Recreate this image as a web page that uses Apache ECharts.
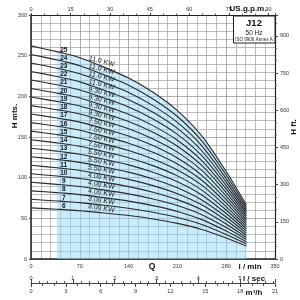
<!DOCTYPE html>
<html><head><meta charset="utf-8">
<script src="https://cdn.jsdelivr.net/npm/echarts@6/dist/echarts.min.js"></script>
<style>html,body{margin:0;padding:0;background:#fff}#c{width:300px;height:300px}</style>
</head><body><div id="c"></div>
<script>
// Flow points (l/min) at which heads were read
const Q = [0, 37, 47, 70, 100, 140, 175, 210, 245, 280, 309];
// Heads (m) per pump model (number of stages)
const H25 = [262, 255, 253, 247.5, 237.5, 222.5, 205, 182.5, 151.3, 107.5, 66.3];
const H24 = [251.5, 244.8, 242.9, 237.6, 228, 213.6, 196.8, 175.2, 145.2, 103.2, 63.6];
const H23 = [241, 234.6, 232.8, 227.7, 218.5, 204.7, 188.6, 167.9, 139.2, 98.9, 61];
const H22 = [230.6, 224.4, 222.6, 217.8, 209, 195.8, 180.4, 160.6, 133.1, 94.6, 58.3];
const H21 = [220.1, 214.2, 212.5, 207.9, 199.5, 186.9, 172.2, 153.3, 127.1, 90.3, 55.7];
const H20 = [209.6, 204, 202.4, 198, 190, 178, 164, 146, 121, 86, 53];
const H19 = [199.1, 193.8, 192.3, 188.1, 180.5, 169.1, 155.8, 138.7, 115, 81.7, 50.4];
const H18 = [188.6, 183.6, 182.2, 178.2, 171, 160.2, 147.6, 131.4, 108.9, 77.4, 47.7];
const H17 = [178.2, 173.4, 172, 168.3, 161.5, 151.3, 139.4, 124.1, 102.9, 73.1, 45.1];
const H16 = [167.7, 163.2, 161.9, 158.4, 152, 142.4, 131.2, 116.8, 96.8, 68.8, 42.4];
const H15 = [157.2, 153, 151.8, 148.5, 142.5, 133.5, 123, 109.5, 90.8, 64.5, 39.8];
const H14 = [146.7, 142.8, 141.7, 138.6, 133, 124.6, 114.8, 102.2, 84.7, 60.2, 37.1];
const H13 = [136.2, 132.6, 131.6, 128.7, 123.5, 115.7, 106.6, 94.9, 78.7, 55.9, 34.5];
const H12 = [125.8, 122.4, 121.4, 118.8, 114, 106.8, 98.4, 87.6, 72.6, 51.6, 31.8];
const H11 = [115.3, 112.2, 111.3, 108.9, 104.5, 97.9, 90.2, 80.3, 66.6, 47.3, 29.2];
const H10 = [104.8, 102, 101.2, 99, 95, 89, 82, 73, 60.5, 43, 26.5];
const H9 = [94.3, 91.8, 91.1, 89.1, 85.5, 80.1, 73.8, 65.7, 54.5, 38.7, 23.9];
const H8 = [83.8, 81.6, 81.0, 79.2, 76.0, 71.2, 65.6, 58.4, 48.4, 34.4, 21.2];
const H7 = [73.4, 71.4, 70.8, 69.3, 66.5, 62.3, 57.4, 51.1, 42.4, 30.1, 18.6];
const H6 = [62.9, 61.2, 60.7, 59.4, 57.0, 53.4, 49.2, 43.8, 36.3, 25.8, 15.9];
const stages = [25, 24, 23, 22, 21, 20, 19, 18, 17, 16, 15, 14, 13, 12, 11, 10, 9, 8, 7, 6];
const powers = ['11.0 KW','11.0 KW','11.0 KW','11.0 KW','9.30 KW','9.30 KW','9.30 KW','9.30 KW',
  '7.50 KW','7.50 KW','7.50 KW','7.50 KW','5.50 KW','5.50 KW','5.50 KW','4.00 KW','4.00 KW','4.00 KW','3.00 KW','3.00 KW'];
const heads = [H25,H24,H23,H22,H21,H20,H19,H18,H17,H16,H15,H14,H13,H12,H11,H10,H9,H8,H7,H6];
// Axis tick settings
const lminTicks = {min: 0, max: 350, interval: 70};
const mTicks = {min: 0, max: 300, interval: 50};
const ftTicks = {min: 0, max: 300 * 3.28084, interval: 150};
const gpmTicks = {min: 0, max: 350 / 3.78541, interval: 15};
const lsecTicks = {min: 0, max: 350 / 60, interval: 1};
const m3hTicks = {min: 0, max: 21, interval: 3};

const FONT = '"Liberation Sans", Arial, sans-serif';
const lab = (o) => Object.assign({fontSize: 5.5, color: '#333', fontFamily: FONT}, o);

const series = [];
series.push({
  type: 'line', xAxisIndex: 0, yAxisIndex: 0, silent: true, z: 1,
  data: Q.slice(1).map((q, i) => [q, H25[i + 1]]),
  smooth: 0.25, symbol: 'none', lineStyle: {width: 0},
  areaStyle: {color: 'rgba(150,215,246,0.5)', opacity: 1}
});
stages.forEach((n, k) => {
  const hs = heads[k];
  const rot = -(9 + (n - 6) * 0.3);
  series.push({
    type: 'line', xAxisIndex: 0, yAxisIndex: 0, silent: true, z: 3,
    smooth: 0.25, symbol: 'circle', symbolSize: 0, showSymbol: true,
    lineStyle: {color: '#2a2a2a', width: 1.1},
    itemStyle: {color: '#2a2a2a'},
    data: Q.map((q, i) => {
      if (i === 2) return {value: [q, hs[i]], label: {show: true, formatter: String(n), position: 'top', distance: 0,
        fontSize: 6.5, fontWeight: 'bold', color: '#111', fontFamily: FONT}};
      if (i === 4) return {value: [q, hs[i]], label: {show: true, formatter: powers[k], position: 'top', distance: 1,
        rotate: rot, fontSize: 7, color: '#222', fontFamily: FONT}};
      return [q, hs[i]];
    })
  });
});

const chart = echarts.init(document.getElementById('c'), null, {renderer: 'canvas'});
chart.setOption({
  animation: false,
  backgroundColor: '#fff',
  grid: [
    {left: 31, right: 25, top: 15, bottom: 41},
    {left: 31, right: 25, top: 283, height: 1}
  ],
  xAxis: [
    Object.assign({type: 'value', gridIndex: 0, position: 'bottom',
      axisLine: {show: true, onZero: false, lineStyle: {color: '#222', width: 1.5}},
      axisTick: {show: false},
      axisLabel: lab({margin: 4}),
      splitLine: {show: true, lineStyle: {color: '#999', width: 0.8}},
      minorTick: {show: false, splitNumber: 5},
      minorSplitLine: {show: true, lineStyle: {color: '#aaa', width: 0.8}}
    }, lminTicks),
    Object.assign({type: 'value', gridIndex: 0, position: 'top',
      axisLine: {show: true, onZero: false, lineStyle: {color: '#222', width: 1.2}},
      axisTick: {show: true, length: 2, lineStyle: {color: '#444'}},
      minorTick: {show: true, splitNumber: 3, length: 1.5, lineStyle: {color: '#666'}},
      axisLabel: lab({margin: 3, showMaxLabel: false}),
      splitLine: {show: false}
    }, gpmTicks),
    Object.assign({type: 'value', gridIndex: 1, position: 'top',
      axisLine: {show: true, onZero: false, lineStyle: {color: '#444', width: 1}},
      axisTick: {show: true, length: 4, lineStyle: {color: '#444'}},
      minorTick: {show: true, splitNumber: 5, length: 2, lineStyle: {color: '#555'}},
      axisLabel: lab({margin: 2, showMaxLabel: false}),
      splitLine: {show: false}
    }, lsecTicks),
    Object.assign({type: 'value', gridIndex: 1, position: 'bottom',
      axisLine: {show: false},
      axisTick: {show: true, length: 3, lineStyle: {color: '#444'}},
      minorTick: {show: true, splitNumber: 3, length: 2, lineStyle: {color: '#555'}},
      axisLabel: lab({margin: 4}),
      splitLine: {show: false}
    }, m3hTicks)
  ],
  yAxis: [
    Object.assign({type: 'value', gridIndex: 0, position: 'left',
      axisLine: {show: true, onZero: false, lineStyle: {color: '#222', width: 1.5}},
      axisTick: {show: true, length: 2, lineStyle: {color: '#444'}},
      axisLabel: lab({margin: 4}),
      splitLine: {show: true, lineStyle: {color: '#999', width: 0.8}},
      minorTick: {show: false, splitNumber: 5},
      minorSplitLine: {show: true, lineStyle: {color: '#aaa', width: 0.8}}
    }, mTicks),
    Object.assign({type: 'value', gridIndex: 0, position: 'right',
      axisLine: {show: true, onZero: false, lineStyle: {color: '#222', width: 1.2}},
      axisTick: {show: true, length: 3, lineStyle: {color: '#444'}},
      minorTick: {show: true, splitNumber: 3, length: 2, lineStyle: {color: '#666'}},
      axisLabel: lab({margin: 5, showMaxLabel: false}),
      splitLine: {show: false}
    }, ftTicks),
    {type: 'value', gridIndex: 1, show: false, min: 0, max: 1}
  ],
  series: series,
  graphic: [
    {type: 'rect', shape: {x: 233.5, y: 16, width: 41.5, height: 27}, style: {fill: '#fff', stroke: '#222', lineWidth: 1}, z: 10},
    {type: 'text', x: 254, y: 23, z: 11, style: {text: 'J12', font: 'bold 9.5px ' + FONT, fill: '#111', align: 'center', verticalAlign: 'middle'}},
    {type: 'text', x: 254, y: 33, z: 11, style: {text: '50 Hz', font: '6.5px ' + FONT, fill: '#222', align: 'center', verticalAlign: 'middle'}},
    {type: 'text', x: 254, y: 39.5, z: 11, style: {text: 'ISO 9906 Annex A', font: '4.5px ' + FONT, fill: '#222', align: 'center', verticalAlign: 'middle'}},
    {type: 'text', x: 248, y: 8.5, z: 11, style: {text: 'US.g.p.m.', font: 'bold 8px ' + FONT, fill: '#111', align: 'center', verticalAlign: 'middle'}},
    {type: 'text', x: 15, y: 116, rotation: Math.PI / 2, z: 11, style: {text: 'H mts.', font: 'bold 8px ' + FONT, fill: '#111', align: 'center', verticalAlign: 'middle'}},
    {type: 'text', x: 294, y: 127, rotation: Math.PI / 2, z: 11, style: {text: 'H ft.', font: 'bold 8px ' + FONT, fill: '#111', align: 'center', verticalAlign: 'middle'}},
    {type: 'text', x: 152, y: 266.5, z: 11, style: {text: 'Q', font: 'bold 8.5px ' + FONT, fill: '#111', align: 'center', verticalAlign: 'middle'}},
    {type: 'text', x: 250, y: 267, z: 11, style: {text: 'l / min', font: 'bold 8px ' + FONT, fill: '#111', align: 'center', verticalAlign: 'middle'}},
    {type: 'text', x: 254, y: 278.5, z: 11, style: {text: 'l / sec', font: 'bold 8px ' + FONT, fill: '#111', align: 'center', verticalAlign: 'middle'}},
    {type: 'text', x: 254, y: 293, z: 11, style: {text: 'm³/h', font: 'bold 8px ' + FONT, fill: '#111', align: 'center', verticalAlign: 'middle'}}
  ]
});
</script></body></html>
